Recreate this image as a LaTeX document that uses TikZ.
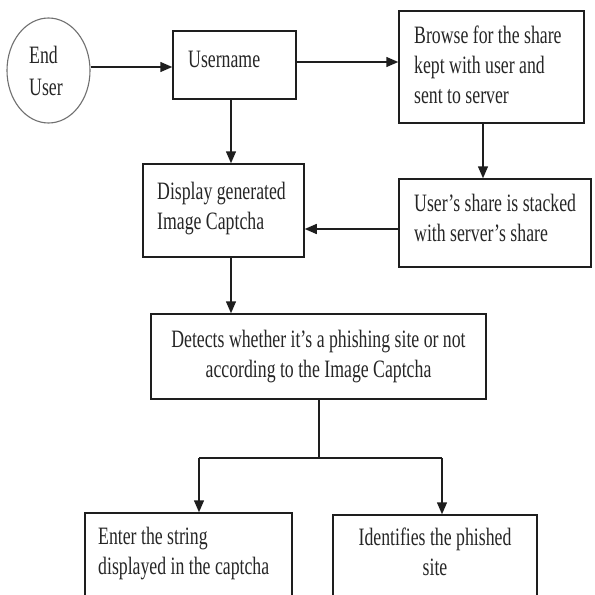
\documentclass[tikz,border=0pt]{standalone}
\usepackage{fontspec}
\setmainfont[FakeStretch=0.71]{Liberation Serif}
\usetikzlibrary{arrows.meta,shapes.geometric}
\definecolor{ink}{HTML}{1E1E1E}
\definecolor{txtc}{HTML}{262626}
\definecolor{ellc}{HTML}{707070}
\begin{document}
\begin{tikzpicture}[x=1pt,y=-1pt,
  box/.style={draw=ink, line width=1.5pt, rectangle, inner sep=0pt},
  txt/.style={text=txtc, font=\fontsize{25}{30}\selectfont, inner sep=0pt, align=left},
  ctxt/.style={txt, align=center},
  arr/.style={draw=ink, line width=1.5pt, -{Triangle[length=12pt,width=10pt]}},
  ln/.style={draw=ink, line width=1.5pt}]
\useasboundingbox (0,0) rectangle (595,595);
\fill[white] (0,0) rectangle (595,595);
\clip (0,0) rectangle (595,595);

% shapes
\node[ellipse, draw=ellc, line width=1.1pt, minimum width=83pt, minimum height=105pt, inner sep=0pt] (eu) at (48.5,70.5) {};
\node[box, minimum width=123pt, minimum height=68pt] (uname) at (234.5,65) {};
\node[box, minimum width=185pt, minimum height=112pt] (browse) at (491.5,67) {};
\node[box, minimum width=161pt, minimum height=93pt] (disp) at (223.5,210.5) {};
\node[box, minimum width=192pt, minimum height=88pt] (share) at (495,223) {};
\node[box, minimum width=335pt, minimum height=85pt] (det) at (318.5,356.5) {};
\node[box, minimum width=207pt, minimum height=107pt] (enter) at (188.5,566.5) {};
\node[box, minimum width=204pt, minimum height=105pt] (ident) at (435,567.5) {};

% texts
\node[txt, anchor=west, font=\fontsize{25}{32}\selectfont] (eut) at (29,71) {End\\User};
\node[txt, anchor=west] (unamet) at (188,59) {Username};
\node[txt, anchor=west] (browset) at (414,65) {Browse for the share\\kept with user and\\sent to server};
\node[txt, anchor=west] (dispt) at (157,209) {Display generated\\Image Captcha};
\node[txt, anchor=west] (sharet) at (414,218) {User's share is stacked\\with server's share};
\node[ctxt] (dett) at (318.5,357) {Detects whether it's a phishing site or not\\according to the Image Captcha};
\node[txt, anchor=west] (entert) at (98,554) {Enter the string\\displayed in the captcha};
\node[ctxt] (identt) at (435,552) {Identifies the phished\\site};

% helper coordinates
\coordinate (cx1) at (231,0);
\coordinate (cx2) at (483,0);
\coordinate (cx3) at (319,0);
\coordinate (cy1) at (0,67);
\coordinate (cy2) at (0,62);
\coordinate (cy3) at (0,229);
\coordinate (jl) at (199,458);
\coordinate (jr) at (442,458);

% connectors
\draw[arr] (eu.east |- cy1) -- (uname.west |- cy1);
\draw[arr] (uname.east |- cy2) -- (browse.west |- cy2);
\draw[arr] (uname.south -| cx1) -- (disp.north -| cx1);
\draw[arr] (browse.south -| cx2) -- (share.north -| cx2);
\draw[arr] (share.west |- cy3) -- (disp.east |- cy3);
\draw[arr] (disp.south -| cx1) -- (det.north -| cx1);
\draw[ln] (det.south -| cx3) -- (jl -| cx3);
\draw[ln] (jl) -- (jr);
\draw[arr] (jl) -- (enter.north -| jl);
\draw[arr] (jr) -- (ident.north -| jr);
\end{tikzpicture}
\end{document}
